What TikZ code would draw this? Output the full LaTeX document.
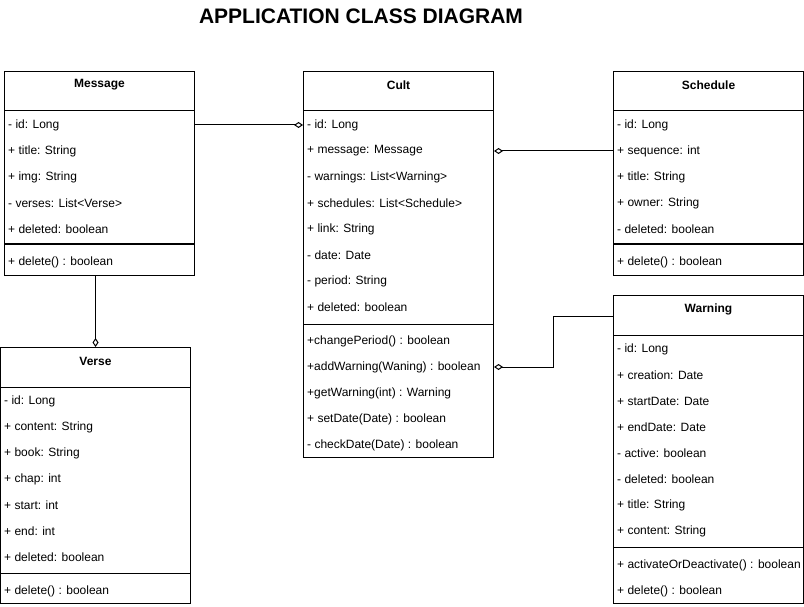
\documentclass[tikz,border=0pt]{standalone}
\usepackage{fontspec}
\setmainfont{Liberation Sans}
\usetikzlibrary{arrows.meta, positioning, calc}

\begin{document}
\begin{tikzpicture}[
    x=1pt, y=-1pt,
    classbox/.style={rectangle, draw=black, line width=1pt, minimum width=190pt, anchor=north west, inner sep=0pt},
    classname/.style={font=\fontsize{12}{14}\selectfont\bfseries},
    member/.style={anchor=west, inner sep=0pt, font=\fontsize{12}{14}\selectfont},
    divider/.style={line width=1pt},
    assoc/.style={-{Diamond[open, length=9pt, width=6pt]}, line width=1pt},
    heading/.style={font=\fontsize{21}{24}\selectfont\bfseries}
]
\useasboundingbox (0,0) rectangle (804,607);

% Title
\node[heading] (head) at (361,16) {APPLICATION CLASS DIAGRAM};

% Message
\node[classbox, minimum height=204pt] (msg) at (4,71) {};
\node[classname] (msg-name) at ($(msg.north)+(0,14)$) {Message};
\draw[divider] ($(msg.north west)+(0,40)$) -- ($(msg.north east)+(0,40)$);
\draw[divider] ($(msg.north west)+(0,173)$) -- ($(msg.north east)+(0,173)$);
\foreach \t [count=\i] in {- id: Long, + title: String, + img: String, - verses: List<Verse>, + deleted: boolean}
    \node[member] (msg-\i) at ($(msg.north west)+(4,28+26*\i)$) {\t};
\node[member] (msg-m1) at ($(msg.north west)+(4,191)$) {+ delete() : boolean};

% Cult
\node[classbox, minimum height=386pt] (cult) at (303,71) {};
\node[classname] (cult-name) at ($(cult.north)+(0,14)$) {Cult};
\draw[divider] ($(cult.north west)+(0,40)$) -- ($(cult.north east)+(0,40)$);
\draw[divider] ($(cult.north west)+(0,253)$) -- ($(cult.north east)+(0,253)$);
\foreach \t [count=\i] in {- id: Long, + message: Message, - warnings: List<Warning>, + schedules: List<Schedule>, + link: String, - date: Date, - period: String, + deleted: boolean}
    \node[member] (cult-\i) at ($(cult.north west)+(4,28+26*\i)$) {\t};
\foreach \t [count=\i] in {+changePeriod() : boolean, +addWarning(Waning) : boolean, +getWarning(int) : Warning, + setDate(Date) : boolean, - checkDate(Date) : boolean}
    \node[member] (cult-m\i) at ($(cult.north west)+(4,244+26*\i)$) {\t};

% Schedule
\node[classbox, minimum height=204pt] (sch) at (613,71) {};
\node[classname] (sch-name) at ($(sch.north)+(0,14)$) {Schedule};
\draw[divider] ($(sch.north west)+(0,40)$) -- ($(sch.north east)+(0,40)$);
\draw[divider] ($(sch.north west)+(0,173)$) -- ($(sch.north east)+(0,173)$);
\foreach \t [count=\i] in {- id: Long, + sequence: int, + title: String, + owner: String, - deleted: boolean}
    \node[member] (sch-\i) at ($(sch.north west)+(4,28+26*\i)$) {\t};
\node[member] (sch-m1) at ($(sch.north west)+(4,191)$) {+ delete() : boolean};

% Warning
\node[classbox, minimum height=308pt] (warn) at (613,295) {};
\node[classname] (warn-name) at ($(warn.north)+(0,14)$) {Warning};
\draw[divider] ($(warn.north west)+(0,40)$) -- ($(warn.north east)+(0,40)$);
\draw[divider] ($(warn.north west)+(0,252)$) -- ($(warn.north east)+(0,252)$);
\foreach \t [count=\i] in {- id: Long, + creation: Date, + startDate: Date, + endDate: Date, - active: boolean, - deleted: boolean, + title: String, + content: String}
    \node[member] (warn-\i) at ($(warn.north west)+(4,28+26*\i)$) {\t};
\foreach \t [count=\i] in {+ activateOrDeactivate() : boolean, + delete() : boolean}
    \node[member] (warn-m\i) at ($(warn.north west)+(4,244+26*\i)$) {\t};

% Verse
\node[classbox, minimum height=256pt] (verse) at (0,347) {};
\node[classname] (verse-name) at ($(verse.north)+(0,14)$) {Verse};
\draw[divider] ($(verse.north west)+(0,40)$) -- ($(verse.north east)+(0,40)$);
\draw[divider] ($(verse.north west)+(0,226)$) -- ($(verse.north east)+(0,226)$);
\foreach \t [count=\i] in {- id: Long, + content: String, + book: String, + chap: int, + start: int, + end: int, + deleted: boolean}
    \node[member] (verse-\i) at ($(verse.north west)+(4,28+26*\i)$) {\t};
\node[member] (verse-m1) at ($(verse.north west)+(4,244)$) {+ delete() : boolean};

% Associations
\draw[assoc] (msg-1 -| msg.east) -- (cult-1 -| cult.west);
\draw[assoc] (sch-2 -| sch.west) -- (cult-2 -| cult.east);
\coordinate (warn-in) at ($(warn.north west)+(0,21)$);
\draw[assoc] (warn-in) -- ++(-60,0) |- (cult-m2 -| cult.east);
\draw[assoc] (verse.north |- msg.south) -- (verse.north);

\end{tikzpicture}
\end{document}
